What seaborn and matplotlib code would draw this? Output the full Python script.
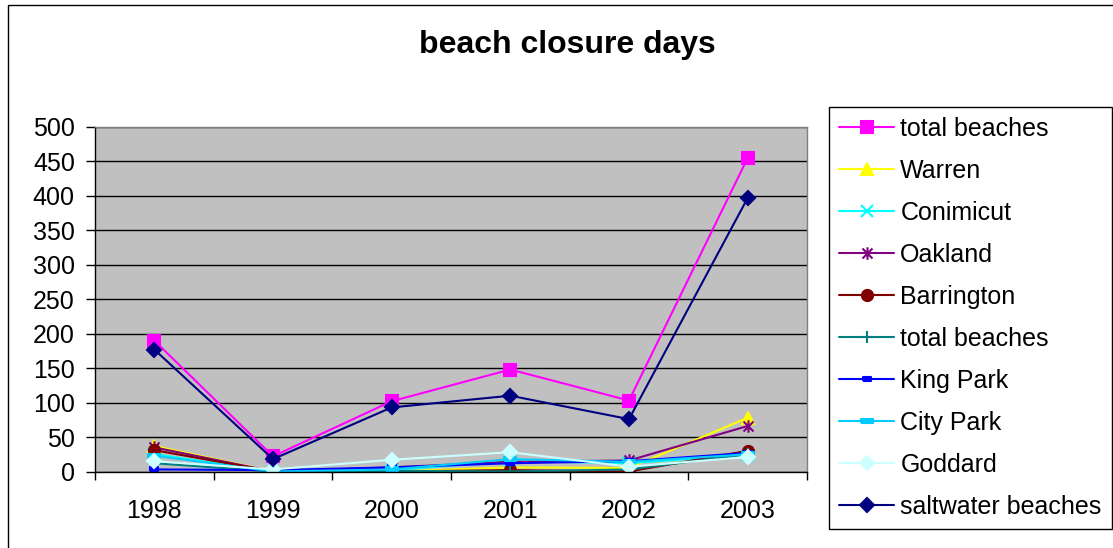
import numpy as np
import pandas as pd
import matplotlib
matplotlib.use("Agg")
import matplotlib.pyplot as plt
import seaborn as sns
from matplotlib.path import Path
from matplotlib.patches import Rectangle

# data
years = [1998, 1999, 2000, 2001, 2002, 2003]
total_beaches = [190, 22, 102, 148, 103, 455]
warren = [37, 0, 0, 6, 5, 78]
conimicut = [25, 0, 2, 15, 12, 24]
oakland = [35, 0, 6, 14, 16, 66]
barrington = [31, 0, 0, 2, 0, 30]
total_beaches_2 = [12, 0, 1, 0, 3, 25]
king_park = [3, 2, 6, 12, 15, 27]
city_park = [23, 0, 3, 18, 14, 25]
goddard = [15, 3, 17, 28, 7, 21]
saltwater_beaches = [177, 18, 93, 110, 76, 397]

labels = ["total beaches", "Warren", "Conimicut", "Oakland", "Barrington",
          "total beaches", "King Park", "City Park", "Goddard", "saltwater beaches"]
series = [total_beaches, warren, conimicut, oakland, barrington,
          total_beaches_2, king_park, city_park, goddard, saltwater_beaches]

sns.set_style("white")
plt.rcParams['font.family'] = ['Liberation Sans', 'DejaVu Sans']
plt.rcParams['text.color'] = 'black'
plt.rcParams['xtick.color'] = 'black'
plt.rcParams['ytick.color'] = 'black'
plt.rcParams['axes.labelcolor'] = 'black'

# excel style star and dash markers
star = Path([(0, -1), (0, 1), (-0.8, -0.8), (0.8, 0.8), (-0.8, 0.8), (0.8, -0.8)],
            [Path.MOVETO, Path.LINETO, Path.MOVETO, Path.LINETO, Path.MOVETO, Path.LINETO])
short_dash = [(-1, -0.45), (1, -0.45), (1, 0.45), (-1, 0.45), (-1, -0.45)]
long_dash = [(-1, -0.3), (1, -0.3), (1, 0.3), (-1, 0.3), (-1, -0.3)]

styles = [
    ("#FF00FF", "s", 8.5),
    ("#FFFF00", "^", 9),
    ("#00FFFF", "x", 8),
    ("#800080", star, 9),
    ("#800000", "o", 8),
    ("#008080", "+", 9),
    ("#0000FF", short_dash, 6),
    ("#00CCFF", long_dash, 9),
    ("#CCFFFF", "D", 7.5),
    ("#000080", "D", 7.5),
]

fig = plt.figure(figsize=(11.13, 5.48), dpi=100)
ax = fig.add_axes([95 / 1113, 1 - 471.5 / 548, 712 / 1113, 344.5 / 548])
ax.set_facecolor("#C0C0C0")

for vals, lab, (col, mk, ms) in zip(series, labels, styles):
    df = pd.DataFrame({"year": years, "days": vals})
    sns.lineplot(data=df, x="year", y="days", ax=ax, color=col, marker=mk,
                 markersize=ms, markeredgecolor=col, markerfacecolor=col,
                 markeredgewidth=1.5, lw=1.5, label=lab)

ax.set_xlim(1997.5, 2003.5)
ax.set_ylim(0, 500)
ax.set_yticks(np.arange(0, 501, 50))
ax.set_xticks(years)
ax.set_xticks(np.arange(1997.5, 2004, 1), minor=True)
ax.set_xlabel("")
ax.set_ylabel("")
ax.grid(axis="y", color="black", lw=1)
ax.set_axisbelow(True)
ax.tick_params(axis="y", which="major", direction="out", length=6.5, width=1,
               color="black", labelcolor="black", labelsize=18, pad=8, left=True)
ax.tick_params(axis="x", which="major", length=0, labelsize=18, pad=19.5,
               labelcolor="black")
ax.tick_params(axis="x", which="minor", direction="out", length=6, width=1,
               color="black", bottom=True)
for s in ["top", "right"]:
    ax.spines[s].set_color("#808080")
    ax.spines[s].set_linewidth(1)
for s in ["left", "bottom"]:
    ax.spines[s].set_color("black")
    ax.spines[s].set_linewidth(1)

fig.text(567 / 1113, 1 - 45 / 548, "beach closure days", ha="center", va="center",
         fontsize=23, fontweight="bold", color="black")

leg = ax.legend(loc="upper left", bbox_to_anchor=(829 / 1113, 1 - 107 / 548),
                bbox_transform=fig.transFigure, fontsize=18, frameon=True,
                fancybox=False, shadow=False, borderaxespad=0, borderpad=0.4,
                labelspacing=0.72, handlelength=2.2, handletextpad=0.25)
leg.get_frame().set_edgecolor("black")
leg.get_frame().set_linewidth(1)
leg.get_frame().set_facecolor("white")
leg.get_frame().set_alpha(1)
for t in leg.get_texts():
    t.set_color("black")

# chart area border
fig.patches.append(Rectangle((8 / 1113, -0.1), 1.2, 1.1 - 5 / 548, transform=fig.transFigure,
                             fill=False, edgecolor="black", lw=1, clip_on=False))

fig.savefig("out.png", dpi=100, facecolor="white")
